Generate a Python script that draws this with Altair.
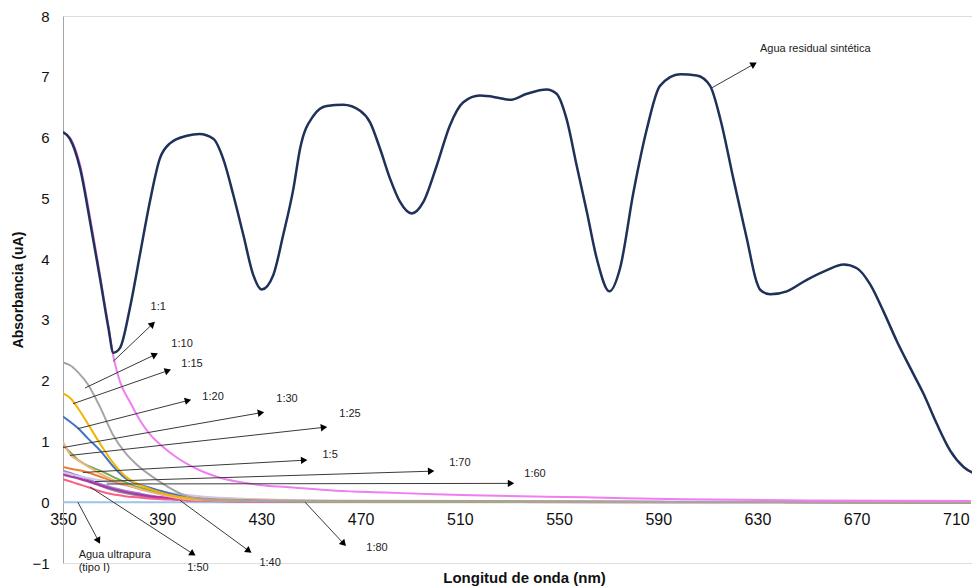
import math
import altair as alt
import pandas as pd

# ---------------- data ----------------
# Agua residual sintética (navy)
navy_nm = [350, 352.8, 356.9, 360.9, 364.9, 368.3, 370.3, 373, 377, 381, 385, 389, 393, 400, 405,
           410.6, 414.6, 418.7, 422.7, 426.7, 430.1, 434.8, 438.8, 442.9, 445.6, 451, 456.3, 463,
           469.8, 473.8, 477.8, 481.9, 485.9, 490.6, 495.3, 500.7, 506, 511.4, 518.1, 524.9, 530.2,
           537, 545, 549, 553, 557.1, 561.2, 565.2, 570.3, 574.6, 580, 585.4, 590.7, 598.8, 605.5,
           610.9, 615, 620.3, 625.7, 629.7, 631, 635.1, 641.8, 649.9, 658, 664.7, 670.1, 675.5,
           680.8, 686.2, 691.6, 697, 702.3, 707.7, 713.1, 719.8]
navy_abs = [6.09, 5.98, 5.49, 4.62, 3.69, 2.87, 2.46, 2.54, 3.2, 4.07, 4.94, 5.65, 5.9, 6.03, 6.06,
            5.98, 5.65, 5.05, 4.4, 3.74, 3.5, 3.74, 4.4, 5.16, 5.82, 6.36, 6.52, 6.54,
            6.44, 6.25, 5.82, 5.32, 4.94, 4.75, 4.94, 5.54, 6.2, 6.58, 6.69, 6.66, 6.62,
            6.72, 6.79, 6.72, 6.31, 5.54, 4.78, 4.01, 3.47, 3.85, 5.1, 6.14, 6.85, 7.04, 7.02,
            6.85, 6.31, 5.32, 4.34, 3.62, 3.5, 3.42, 3.47, 3.66, 3.82, 3.91, 3.85, 3.58,
            3.14, 2.65, 2.21, 1.78, 1.29, 0.85, 0.58, 0.44]

# 1:1 (pink)
pink_nm = [350, 352.8, 356.9, 360.9, 364.9, 368.3, 370.5, 373, 377, 381, 385, 390, 395, 400, 406,
           412, 420, 430, 440, 460, 480, 500, 520, 560, 600, 650, 716]
pink_abs = [6.08, 6.0, 5.55, 4.7, 3.75, 2.9, 2.36, 1.98, 1.65, 1.35, 1.12, 0.92, 0.76, 0.63, 0.51,
            0.42, 0.34, 0.28, 0.25, 0.19, 0.16, 0.13, 0.11, 0.08, 0.05, 0.03, 0.02]

# other dilutions, common wavelength grid
grid_nm = [350, 353, 356, 360, 365, 370, 375, 380, 385, 390, 400, 410, 430, 460, 520, 600, 716]
abs_1_10 = [2.3, 2.25, 2.14, 1.94, 1.56, 1.12, 0.82, 0.61, 0.45, 0.31, 0.1, 0.04, 0.02, 0.01, 0.01, 0.005, 0]
abs_1_15 = [1.79, 1.71, 1.55, 1.29, 0.96, 0.66, 0.43, 0.3, 0.22, 0.15, 0.07, 0.04, 0.02, 0.01, 0.01, 0.005, 0]
abs_1_20 = [1.41, 1.32, 1.22, 1.05, 0.85, 0.6, 0.4, 0.3, 0.24, 0.18, 0.08, 0.04, 0.02, 0.01, 0.01, 0.005, 0]
abs_1_30 = [0.99, 0.78, 0.69, 0.59, 0.47, 0.37, 0.3, 0.23, 0.17, 0.12, 0.05, 0.03, 0.02, 0.01, 0.01, 0.005, 0]
abs_1_25 = [0.93, 0.82, 0.7, 0.6, 0.52, 0.42, 0.33, 0.25, 0.19, 0.14, 0.07, 0.04, 0.02, 0.01, 0.01, 0.005, 0]
abs_1_5 = [0.58, 0.55, 0.53, 0.49, 0.42, 0.35, 0.29, 0.23, 0.18, 0.13, 0.08, 0.05, 0.03, 0.02, 0.01, 0.005, 0]
abs_1_70 = [0.49, 0.46, 0.43, 0.4, 0.36, 0.32, 0.28, 0.24, 0.2, 0.17, 0.12, 0.08, 0.05, 0.03, 0.02, 0.01, 0.005]
abs_1_60 = [0.47, 0.43, 0.4, 0.35, 0.28, 0.22, 0.17, 0.13, 0.1, 0.08, 0.05, 0.03, 0.02, 0.01, 0.01, 0.005, 0]
abs_1_50 = [0.38, 0.34, 0.3, 0.25, 0.18, 0.13, 0.1, 0.08, 0.06, 0.05, 0.03, 0.02, 0.01, 0.01, 0.005, 0, 0]
abs_1_40 = [0.45, 0.42, 0.39, 0.34, 0.27, 0.2, 0.15, 0.11, 0.08, 0.06, 0.03, 0.02, 0.01, 0.01, 0.005, 0, 0]
abs_1_80 = [0.52, 0.48, 0.44, 0.38, 0.3, 0.24, 0.19, 0.15, 0.11, 0.08, 0.05, 0.03, 0.02, 0.01, 0.01, 0.005, 0]
abs_ultra = [0] * len(grid_nm)

small_names = ["Agua ultrapura", "1:40", "1:80", "1:50", "1:60", "1:70", "1:5", "1:25", "1:30",
               "1:20", "1:15", "1:10"]
small_values = [abs_ultra, abs_1_40, abs_1_80, abs_1_50, abs_1_60, abs_1_70, abs_1_5, abs_1_25,
                abs_1_30, abs_1_20, abs_1_15, abs_1_10]
small_colors = ["#9dc3e6", "#8c8c8c", "#9e86cc", "#ff5c8a", "#b030b0", "#cfc6ea", "#ed7d31",
                "#70ad47", "#f4b183", "#4472c4", "#f2b400", "#a5a5a5"]

# annotation arrows: label, tail (nm, abs), head (nm, abs), label position (nm, abs)
ann_label = ["1:1", "1:10", "1:15", "1:20", "1:30", "1:25", "1:5", "1:70", "1:60", "1:50", "1:40", "1:80"]
ann_x1 = [370.3, 358.9, 354.0, 356.0, 350.0, 352.8, 358.0, 362.9, 367.6, 360.9, 397.2, 447.6]
ann_y1 = [2.32, 1.88, 1.62, 1.21, 0.90, 0.77, 0.49, 0.34, 0.30, 0.25, 0.03, 0.0]
ann_x2 = [385.8, 386.7, 391.9, 400.0, 429.4, 454.8, 446.8, 498.0, 530.2, 402.0, 424.6, 462.9]
ann_y2 = [2.92, 2.42, 2.16, 1.67, 1.47, 1.23, 0.69, 0.51, 0.31, -0.84, -0.79, -0.67]
ann_tx = [388.4, 398.0, 402.0, 410.5, 440.3, 465.7, 457.7, 510.0, 540.3, 404.4, 433.5, 476.6]
ann_ty = [3.22, 2.60, 2.27, 1.73, 1.70, 1.45, 0.77, 0.65, 0.46, -1.08, -1.00, -0.75]

extra_label = ["Agua residual sintética", "Agua ultrapura\n (tipo I)"]
extra_x1 = [611.7, 356.0]
extra_y1 = [6.82, 0.0]
extra_x2 = [628.2, 364.1]
extra_y2 = [7.20, -0.62]
extra_tx = [631.0, 356.3]
extra_ty = [7.45, -0.87]

x_ticks = [350, 390, 430, 470, 510, 550, 590, 630, 670, 710]
y_ticks = [-1, 0, 1, 2, 3, 4, 5, 6, 7, 8]

# ---------------- layout ----------------
W, H = 909, 547
XMIN, XMAX = 350, 716.5
YMIN, YMAX = -1, 8
kx = W / (XMAX - XMIN)
ky = H / (YMAX - YMIN)

rows = []
for name, vals in zip(small_names, small_values):
    for nm, v in zip(grid_nm, vals):
        rows.append({"serie": name, "nm": nm, "abs": v})
small_df = pd.DataFrame(rows)
pink_df = pd.DataFrame({"serie": "1:1", "nm": pink_nm, "abs": pink_abs})
navy_df = pd.DataFrame({"serie": "Agua residual sintética", "nm": navy_nm, "abs": navy_abs})

arr = pd.DataFrame({
    "label": ann_label + extra_label,
    "x1": ann_x1 + extra_x1, "y1": ann_y1 + extra_y1,
    "x2": ann_x2 + extra_x2, "y2": ann_y2 + extra_y2,
    "tx": ann_tx + extra_tx, "ty": ann_ty + extra_ty,
})
arr["ang"] = [
    (math.degrees(math.atan2((b - a) * kx, (d - c) * ky)) + 360) % 360
    for a, b, c, d in zip(arr.x1, arr.x2, arr.y1, arr.y2)
]
arr["align"] = ["center"] * len(ann_label) + ["left", "left"]

xs = alt.Scale(domain=[XMIN, XMAX], nice=False, zero=False)
ys = alt.Scale(domain=[YMIN, YMAX], nice=False, zero=False)

x_enc = alt.X("nm:Q", scale=xs, axis=alt.Axis(
    values=x_ticks, format="d", title="Longitud de onda (nm)", offset=-ky, domain=False,
    ticks=False, grid=False, labelFlush=False, labelOverlap=False, labelBound=False,
    labelPadding=9, labelFontSize=16, labelColor="#111", labelFont="Liberation Sans",
    titleFont="Liberation Sans", titleFontSize=15, titleFontWeight="bold", titleColor="#111",
    titleX=461, titleY=75, titleBaseline="middle", titleAlign="center"))
y_enc = alt.Y("abs:Q", scale=ys, axis=alt.Axis(
    values=y_ticks, format="d", title="Absorbancia (uA)", domain=True, domainColor="#a6a6a6",
    ticks=False, grid=False, labelFlush=False, labelOverlap=False, labelBound=False,
    labelPadding=14, labelFontSize=15, labelColor="#111", labelFont="Liberation Sans",
    titleFont="Liberation Sans", titleFontSize=14, titleFontWeight="bold", titleColor="#111",
    titleX=-45, titleY=H / 2, titleAngle=270, titleAlign="center", titleBaseline="middle"))

small = alt.Chart(small_df).mark_line(strokeWidth=2, interpolate="monotone", clip=True).encode(
    x=x_enc, y=y_enc,
    color=alt.Color("serie:N", scale=alt.Scale(domain=small_names, range=small_colors), legend=None),
    order=alt.Order("nm:Q"),
)
pink = alt.Chart(pink_df).mark_line(strokeWidth=2, interpolate="monotone", clip=True,
                                    color="#f07ef0").encode(x="nm:Q", y="abs:Q")
navy = alt.Chart(navy_df).mark_line(strokeWidth=2.5, interpolate="monotone", clip=True,
                                    color="#1f3158").encode(x="nm:Q", y="abs:Q")

rules = alt.Chart(arr).mark_rule(color="#3a3a3a", strokeWidth=1).encode(
    x="x1:Q", y="y1:Q", x2="x2:Q", y2="y2:Q")
heads = alt.Chart(arr).mark_point(shape="triangle", filled=True, color="#000", size=55,
                                  opacity=1).encode(
    x="x2:Q", y="y2:Q", angle=alt.Angle("ang:Q", scale=None))
texts_c = alt.Chart(arr[arr["align"] == "center"]).mark_text(
    fontSize=11, font="Liberation Sans", color="#222", align="center", baseline="middle").encode(
    x="tx:Q", y="ty:Q", text="label:N")
texts_l = alt.Chart(arr[arr["align"] == "left"]).mark_text(
    fontSize=11, font="Liberation Sans", color="#222", align="left", baseline="middle",
    lineBreak="\n").encode(x="tx:Q", y="ty:Q", text="label:N")

chart = alt.layer(small, pink, navy, rules, heads, texts_c, texts_l).properties(
    width=W, height=H,
    autosize=alt.AutoSizeParams(type="none"),
    padding={"left": 55, "top": 8, "right": 0, "bottom": 24},
).configure_view(stroke=None).configure(background="white")

chart.save("out.html", embed_options={"renderer": "svg", "actions": False})
